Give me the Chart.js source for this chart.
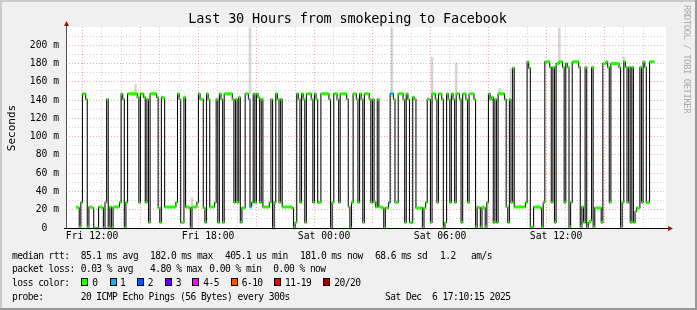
<!DOCTYPE html>
<html>
<head>
<meta charset="utf-8">
<script src="https://cdn.jsdelivr.net/npm/chart.js@4.4.1/dist/chart.umd.min.js"></script>
<style>
body { margin: 0; background: #fff; }
#wrap { position: relative; width: 697px; height: 310px; font-family: "DejaVu Sans Mono", monospace; color: #000; }
#wrap canvas { position: absolute; left: 0; top: 0; }
.t { position: absolute; white-space: pre; line-height: 1; }
.f { font-size: 9.6px; letter-spacing: -0.55px; }
.box { position: absolute; top: 278px; width: 7px; height: 8px; box-sizing: border-box; border: 1px solid #000; }
</style>
</head>
<body>
<div id="wrap">
  <canvas id="chart" width="697" height="310"></canvas>
  <div class="t" style="left:0;top:12.4px;width:695px;text-align:center;font-size:13.5px;letter-spacing:-0.17px">Last 30 Hours from smokeping to Facebook</div>
  <div class="t" style="left:10.8px;top:127.5px;font-size:11px;transform:translate(-50%,-50%) rotate(-90deg)">Seconds</div>
  <div class="t" style="left:682px;top:5px;font-size:9px;letter-spacing:-0.5px;writing-mode:vertical-rl;color:#aaaaaa">RRDTOOL / TOBI OETIKER</div>

  <div class="t f" style="left:12px;top:250.7px">median rtt:</div>
  <div class="t f" style="left:80.7px;top:250.7px">85.1 ms avg</div>
  <div class="t f" style="left:150px;top:250.7px">182.0 ms max</div>
  <div class="t f" style="left:225px;top:250.7px">405.1 us min</div>
  <div class="t f" style="left:300px;top:250.7px">181.0 ms now</div>
  <div class="t f" style="left:375px;top:250.7px">68.6 ms sd</div>
  <div class="t f" style="left:440px;top:250.7px">1.2</div>
  <div class="t f" style="left:471px;top:250.7px">am/s</div>

  <div class="t f" style="left:12px;top:264.1px">packet loss:</div>
  <div class="t f" style="left:80.7px;top:264.1px">0.03 % avg</div>
  <div class="t f" style="left:150px;top:264.1px">4.80 % max</div>
  <div class="t f" style="left:209.3px;top:264.1px">0.00 % min</div>
  <div class="t f" style="left:273.3px;top:264.1px">0.00 % now</div>

  <div class="t f" style="left:12px;top:278.1px">loss color:</div>
  <div class="box" style="left:81px;background:#26ff00"></div><div class="t f" style="left:92.3px;top:278.1px">0</div>
  <div class="box" style="left:109.7px;background:#00b8ff"></div><div class="t f" style="left:120px;top:278.1px">1</div>
  <div class="box" style="left:137px;background:#0059ff"></div><div class="t f" style="left:147.7px;top:278.1px">2</div>
  <div class="box" style="left:165px;background:#5e00ff"></div><div class="t f" style="left:175.7px;top:278.1px">3</div>
  <div class="box" style="left:192.3px;background:#ff00ff"></div><div class="t f" style="left:203.3px;top:278.1px">4-5</div>
  <div class="box" style="left:230.7px;background:#ff5500"></div><div class="t f" style="left:241.7px;top:278.1px">6-10</div>
  <div class="box" style="left:274px;background:#ff0000"></div><div class="t f" style="left:285px;top:278.1px">11-19</div>
  <div class="box" style="left:322.7px;background:#a10000"></div><div class="t f" style="left:334.3px;top:278.1px">20/20</div>

  <div class="t f" style="left:12px;top:292.1px">probe:</div>
  <div class="t f" style="left:80.7px;top:292.1px">20 ICMP Echo Pings (56 Bytes) every 300s</div>
  <div class="t f" style="left:385px;top:292.1px">Sat Dec  6 17:10:15 2025</div>
</div>
<script>
// minutes since Fri 11:10, start of each median step
const stepMinute = [
  0, 5, 10, 15, 20, 30, 35, 40, 50, 55, 70, 80, 85, 90, 95, 100, 105, 110, 115, 135,
  140, 145, 150, 155, 160, 190, 195, 200, 210, 215, 220, 225, 230, 250, 255, 260, 265, 270, 275,
  310, 315, 320, 325, 335, 340, 350, 355, 360, 375, 380, 385, 395, 400, 405, 410, 415, 430,
  435, 440, 445, 450, 455, 460, 485, 490, 495, 500, 505, 510, 515, 525, 535, 540, 545, 550,
  555, 560, 565, 570, 575, 580, 600,
  605, 610, 615, 620, 625, 630, 635, 640, 670, 675, 680, 685, 690, 695, 700, 705, 710, 715,
  730, 735, 740, 745, 750, 760, 785, 790, 795, 800, 810, 815, 820, 840, 845, 850, 855, 860,
  870, 875, 880, 885, 890, 895,
  910, 915, 920, 925, 930, 935, 940, 950, 955, 960, 970, 975, 985, 990, 1000, 1015, 1020,
  1025, 1030, 1035, 1045, 1050, 1055, 1075, 1080, 1085, 1090, 1100, 1105, 1115, 1120, 1125,
  1135, 1140, 1145, 1150, 1155, 1160, 1165, 1170, 1175, 1180, 1190, 1195, 1200,
  1210, 1215, 1220, 1235, 1240, 1245, 1250, 1255, 1260, 1265, 1270, 1275, 1280, 1285, 1290,
  1295, 1300, 1305, 1310, 1330, 1335, 1340, 1345, 1350, 1355, 1360, 1395, 1400, 1405, 1410,
  1420, 1440, 1445, 1450, 1455, 1470, 1475, 1480, 1485, 1490, 1500,
  1510, 1515, 1520, 1525, 1530, 1535, 1540, 1560, 1565, 1570, 1575, 1580, 1585, 1590, 1595,
  1600, 1605, 1610, 1630, 1635, 1645, 1650, 1655, 1660, 1685, 1690, 1695, 1700, 1705, 1710,
  1715, 1720, 1725, 1730, 1735, 1740, 1750, 1755, 1760, 1765, 1770, 1780
];
// median rtt in ms for each step
const medianMs = [
  23, 22, 1, 28, 147, 141, 1, 23, 22, 0, 23, 22, 0, 28, 141, 0, 23, 0, 23, 28,
  147, 141, 0, 28, 147, 143, 28, 147, 143, 28, 141, 6, 147, 143, 22, 6, 143, 142, 23,
  28, 147, 141, 6, 143, 23, 22, 0, 23, 28, 147, 141, 22, 6, 147, 141, 23, 28,
  141, 6, 147, 141, 6, 147, 141, 28, 141, 28, 143, 6, 22, 147, 141, 23, 28, 147,
  28, 147, 143, 28, 141, 23, 28,
  141, 0, 28, 147, 141, 28, 141, 23, 22, 0, 6, 147, 141, 28, 147, 141, 6, 147,
  141, 28, 147, 141, 28, 147, 141, 0, 28, 147, 141, 28, 147, 141, 23, 0, 28, 147,
  141, 28, 147, 141, 6, 147,
  141, 28, 141, 28, 23, 141, 23, 22, 0, 22, 28, 147, 141, 28, 147, 141, 6,
  147, 141, 6, 143, 141, 22, 0, 22, 28, 141, 6, 147, 141, 28, 147,
  141, 0, 6, 147, 141, 28, 147, 141, 28, 147, 141, 6, 147,
  141, 28, 147, 141, 1, 23, 22, 1, 23, 22, 1, 28, 147, 141, 143,
  6, 141, 6, 147, 141, 23, 6, 141, 28, 175, 23, 28, 182, 175, 1,
  23, 22, 1, 28, 182, 176, 28, 176, 6, 180, 182,
  176, 28, 180, 176, 1, 28, 182, 176, 1, 23, 6, 176, 1, 6, 8,
  176, 1, 22, 6, 180, 182, 176, 28, 180, 176, 1, 28, 182, 176, 28,
  176, 6, 176, 6, 18, 22, 176, 28, 182, 176, 28, 182
];
const endMinute = 1795;
// steps that lost 1 of 20 pings
const lossOneMinute = [535, 540, 970, 975];

// grey smoke (spread of the 20 pings) where it shows above the median
const smokeMinute = [185, 360, 540, 980, 1105, 1180, 1315, 1350, 1500, 1700];
const smokeLowMs = [148, 23, 147, 147, 148, 148, 148, 143, 182, 182];
const smokeHighMs = [157, 33, 219, 219, 187, 180, 153, 175, 219, 187];

const timeLabels = ['Fri 12:00', 'Fri 18:00', 'Sat 00:00', 'Sat 06:00', 'Sat 12:00'];
const labelMinutes = [50, 410, 770, 1130, 1490];

const hourTicks = [];
for (let m = 50; m < 1800; m += 60) hourTicks.push(m);

function stepEnd(i) {
    return i + 1 < stepMinute.length ? stepMinute[i + 1] : endMinute;
}

function bandPoints(pick) {
    const pts = [];
    stepMinute.forEach((m, i) => {
        if (!pick(m)) return;
        const e = stepEnd(i);
        pts.push({ x: m, y: medianMs[i] }, { x: e, y: medianMs[i] }, { x: e, y: null });
    });
    return pts;
}

const medianLine = [];
stepMinute.forEach((m, i) => {
    medianLine.push({ x: m, y: medianMs[i] }, { x: stepEnd(i), y: medianMs[i] });
});

const smokeBars = smokeMinute.map((m, i) => ({ x: m, y: [smokeLowMs[i], smokeHighMs[i]] }));

const MINOR = 'rgba(140,140,140,0.38)';
const MAJOR = 'rgba(225,60,60,0.42)';
const NONE = 'rgba(0,0,0,0)';
const MONO = "'DejaVu Sans Mono', monospace";

const frame = {
    id: 'frame',
    beforeDraw(chart) {
        const { ctx, chartArea: a } = chart;
        ctx.save();
        ctx.fillStyle = '#f0f0f0';
        ctx.fillRect(0, 0, 697, 310);
        ctx.fillStyle = '#cbcbcb';
        ctx.fillRect(0, 0, 697, 2);
        ctx.fillRect(0, 0, 2, 310);
        ctx.fillStyle = '#999999';
        ctx.fillRect(0, 308, 697, 2);
        ctx.fillRect(695, 0, 2, 310);
        ctx.fillStyle = '#ffffff';
        ctx.fillRect(a.left, a.top, a.right - a.left, a.bottom - a.top);
        ctx.restore();
    },
    afterDatasetsDraw(chart) {
        const { ctx, chartArea: a } = chart;
        ctx.save();
        ctx.lineWidth = 1;
        ctx.strokeStyle = '#505050';
        ctx.beginPath();
        ctx.moveTo(a.left + 0.5, a.bottom);
        ctx.lineTo(a.left + 0.5, a.top - 4);
        ctx.stroke();
        ctx.strokeStyle = '#000000';
        ctx.beginPath();
        ctx.moveTo(a.left - 2, a.bottom + 0.5);
        ctx.lineTo(a.right + 3, a.bottom + 0.5);
        ctx.stroke();
        ctx.fillStyle = '#a01010';
        ctx.beginPath();
        ctx.moveTo(a.left - 2, a.top - 1);
        ctx.lineTo(a.left + 3, a.top - 1);
        ctx.lineTo(a.left + 0.5, a.top - 6);
        ctx.closePath();
        ctx.fill();
        ctx.beginPath();
        ctx.moveTo(a.right + 2, a.bottom - 2);
        ctx.lineTo(a.right + 2, a.bottom + 3);
        ctx.lineTo(a.right + 7, a.bottom + 0.5);
        ctx.closePath();
        ctx.fill();
        ctx.restore();
    }
};

new Chart(document.getElementById('chart'), {
    type: 'line',
    data: {
        datasets: [
            {
                data: bandPoints(m => !lossOneMinute.includes(m)),
                borderColor: '#26ff00',
                borderWidth: 3,
                pointRadius: 0,
                spanGaps: false,
                clip: false,
                order: 0
            },
            {
                data: bandPoints(m => lossOneMinute.includes(m)),
                borderColor: '#00b8ff',
                borderWidth: 3,
                pointRadius: 0,
                spanGaps: false,
                clip: false,
                order: 0
            },
            {
                data: medianLine,
                borderColor: '#101010',
                borderWidth: 1.1,
                pointRadius: 0,
                order: 1
            },
            {
                type: 'bar',
                data: smokeBars,
                backgroundColor: 'rgba(0,0,0,0.16)',
                barThickness: 2,
                grouped: false,
                order: 2
            }
        ]
    },
    options: {
        responsive: false,
        devicePixelRatio: 1,
        animation: false,
        events: [],
        layout: { padding: { left: 0, top: 27, right: 31, bottom: 0 } },
        plugins: {
            legend: { display: false },
            tooltip: { enabled: false },
            title: { display: false }
        },
        elements: { line: { tension: 0 } },
        scales: {
            x: {
                type: 'linear',
                min: 0,
                max: 1800,
                afterFit: s => { s.height = 82; },
                afterBuildTicks: s => { s.ticks = hourTicks.map(v => ({ value: v })); },
                grid: {
                    drawTicks: false,
                    color: c => {
                        if (!c.tick) return NONE;
                        return ((c.tick.value - 50) / 60) % 3 === 0 ? MAJOR : MINOR;
                    }
                },
                border: { display: false, dash: [1, 2] },
                ticks: {
                    autoSkip: false,
                    maxRotation: 0,
                    padding: 3,
                    color: '#000',
                    font: { family: MONO, size: 9.7 },
                    callback: v => {
                        const i = labelMinutes.indexOf(v);
                        return i < 0 ? '' : timeLabels[i];
                    }
                }
            },
            y: {
                min: 0,
                max: 220,
                afterFit: s => { s.width = 66; },
                grid: {
                    drawTicks: false,
                    color: c => {
                        if (!c.tick) return NONE;
                        const v = c.tick.value;
                        if (v === 0 || v === 220) return NONE;
                        return v % 20 === 0 ? MAJOR : MINOR;
                    }
                },
                border: { display: false, dash: [1, 2] },
                ticks: {
                    stepSize: 10,
                    autoSkip: false,
                    padding: 7,
                    color: '#000',
                    font: { family: MONO, size: 9.7 },
                    callback: v => {
                        if (v === 0) return '0  ';
                        if (v % 20 !== 0 || v > 200) return '';
                        return v + ' m';
                    }
                }
            }
        }
    },
    plugins: [frame]
});
</script>
</body>
</html>
